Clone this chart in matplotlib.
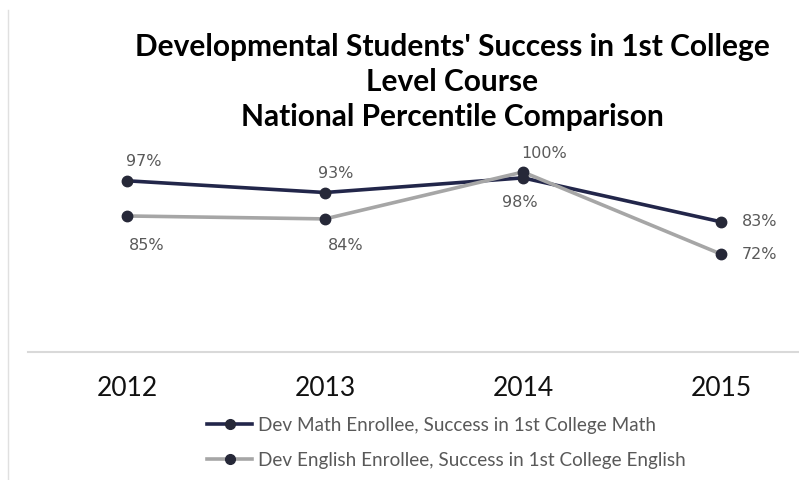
import matplotlib.pyplot as plt
from matplotlib.lines import Line2D

# Series values (national percentile)
years = ['2012', '2013', '2014', '2015']
math_pct = [97, 93, 98, 83]
english_pct = [85, 84, 100, 72]
math_label = 'Dev Math Enrollee, Success in 1st College Math'
english_label = 'Dev English Enrollee, Success in 1st College English'

math_color = '#22264a'
english_color = '#a6a6a6'
marker_color = '#262838'
label_color = '#595959'

W, H = 799, 480
fig = plt.figure(figsize=(W / 100, H / 100), dpi=100)

# plot area in pixel terms
left_px, right_px = 28, 799
top_px, bottom_px = 150, 352
ax = fig.add_axes([left_px / W, 1 - bottom_px / H,
                   (right_px - left_px) / W, (bottom_px - top_px) / H])

x = range(len(years))
ax.plot(x, math_pct, color=math_color, lw=2.6, marker='o', ms=7.5,
        mfc=marker_color, mec=marker_color, zorder=3)
ax.plot(x, english_pct, color=english_color, lw=2.6, marker='o', ms=7.5,
        mfc=marker_color, mec=marker_color, zorder=4)

ax.set_xlim(-0.5, -0.5 + (right_px - left_px) / 198)
ax.set_ylim(38.6, 107.5)

# data labels: (dx, dy) offsets in points
math_off = [(12, 14), (8, 14), (-2, -18), (28, 0)]
eng_off = [(14, -21), (15, -19), (15, 13), (28, 0)]
for i, v in enumerate(math_pct):
    ax.annotate(f'{v}%', (i, v), xytext=math_off[i], textcoords='offset points',
                ha='center', va='center', fontsize=11.5, color=label_color)
for i, v in enumerate(english_pct):
    ax.annotate(f'{v}%', (i, v), xytext=eng_off[i], textcoords='offset points',
                ha='center', va='center', fontsize=11.5, color=label_color)

ax.set_xticks(list(x))
ax.set_xticklabels(years, fontsize=19, family='Lato', color='#111111')
ax.tick_params(axis='x', length=0, pad=17)
ax.set_yticks([])
for s in ['left', 'right', 'top']:
    ax.spines[s].set_visible(False)
ax.spines['bottom'].set_color('#d9d9d9')
ax.spines['bottom'].set_linewidth(1.5)

# left chart border
fig.add_artist(Line2D([8 / W, 8 / W], [0, 1 - 10 / H], color='#e0e0e0', lw=1))

fig.text(452 / W, 1 - 82 / H,
         "Developmental Students' Success in 1st College\nLevel Course\nNational Percentile Comparison",
         ha='center', va='center', fontsize=21.5, fontweight='bold', family='Lato',
         linespacing=1.32, color='#000000')

handles = [
    Line2D([], [], color=math_color, lw=2.6, marker='o', ms=7, mfc=marker_color, mec=marker_color),
    Line2D([], [], color=english_color, lw=2.6, marker='o', ms=7, mfc=marker_color, mec=marker_color),
]
leg = fig.legend(handles, [math_label, english_label], loc='center left',
                 bbox_to_anchor=(190 / W, 1 - 443 / H), frameon=False,
                 handlelength=2.4, handletextpad=0.3, labelspacing=0.95,
                 prop={'family': 'Lato', 'size': 13.6})
for t in leg.get_texts():
    t.set_color(label_color)

fig.savefig('out.png', dpi=100, facecolor='white')
